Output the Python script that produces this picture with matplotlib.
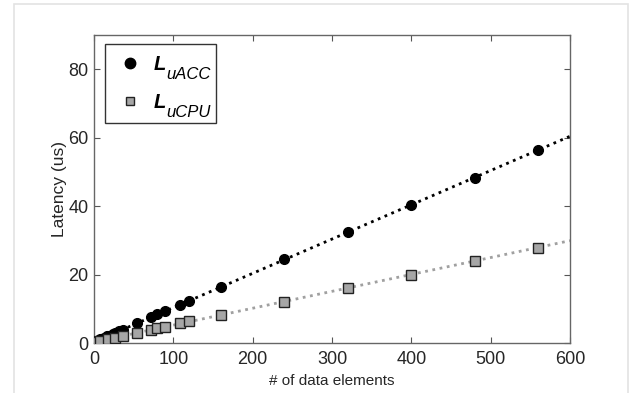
import numpy as np
import matplotlib
matplotlib.use("Agg")
import matplotlib.pyplot as plt
from matplotlib.patches import Rectangle

plt.rcParams['font.family'] = ['Liberation Sans', 'DejaVu Sans']

# data
x_acc = [1, 2, 4, 6, 8, 10, 12, 16, 18, 24, 27, 32, 36, 54, 72, 80, 90, 108, 120,
         160, 240, 320, 400, 480, 560]
y_acc = [0.4, 0.5, 0.7, 0.9, 1.1, 1.3, 1.5, 1.9, 2.1, 2.7, 3.0, 3.5, 3.9, 5.8, 7.7,
         8.5, 9.4, 11.2, 12.3, 16.3, 24.4, 32.4, 40.4, 48.3, 56.4]
x_cpu = [1, 8, 18, 27, 36, 54, 72, 80, 90, 108, 120, 160, 240, 320, 400, 480, 560]
y_cpu = [0.3, 0.6, 1.1, 1.6, 2.0, 3.0, 3.8, 4.4, 4.8, 5.7, 6.3, 8.1, 12.1, 16.1,
         20.0, 24.0, 27.9]
main_label = 'L'
sub_labels = ['uACC', 'uCPU']

W, H = 632, 393
fig = plt.figure(figsize=(W / 100, H / 100), dpi=100)
ax = fig.add_axes([94 / W, 1 - 343 / H, 476 / W, 308 / H])

# light frame around the figure
fig.patches.append(Rectangle((14 / W, -0.1), 614 / W, 1.1 - 4 / H,
                             transform=fig.transFigure, fill=False,
                             edgecolor='#e3e3e3', lw=1.2))

# linear fits drawn as dotted trend lines
xfit = np.array([0, 600])
pa = np.polyfit(x_acc, y_acc, 1)
pc = np.polyfit(x_cpu, y_cpu, 1)
ax.plot(xfit, np.polyval(pa, xfit), ':', color='black', lw=2, zorder=2)
ax.plot(xfit, np.polyval(pc, xfit), ':', color='#a0a0a0', lw=2, zorder=2)

ax.plot(x_acc, y_acc, 'o', color='black', ms=7, zorder=3, label=main_label)
ax.plot(x_cpu, y_cpu, 's', mfc='#a6a6a6', mec='#222222', mew=1, ms=6.5,
        zorder=4, label=main_label)

ax.set_xlim(0, 600)
ax.set_ylim(0, 90)
ax.set_xticks(range(0, 601, 100))
ax.set_yticks(range(0, 81, 20))
ax.tick_params(direction='in', length=4, width=0.8, top=True, right=True,
               labelsize=13, labelcolor='#262626', color='#555555')
ax.tick_params(axis='y', pad=4)
ax.tick_params(axis='x', pad=6)
for s in ax.spines.values():
    s.set_color('#666666')
    s.set_linewidth(1)

ax.set_xlabel('# of data elements', fontsize=11, color='#262626', labelpad=4)
ax.set_ylabel('Latency (us)', fontsize=12.5, color='#262626', labelpad=1)

lfont = {'size': 14.5, 'weight': 'bold', 'style': 'italic'}
leg = ax.legend(loc='upper left', bbox_to_anchor=(11 / 476, 1 - 9 / 308),
                borderaxespad=0, prop=lfont, frameon=False,
                handletextpad=0.45, borderpad=0.55,
                labelspacing=0.95, handlelength=1.4)
leg.legend_handles[0].set_markersize(7.5)
leg.legend_handles[1].set_markersize(5.5)
leg.set_zorder(6)

# subscripts placed after the big L, dropped well below its baseline
fig.canvas.draw()
rend = fig.canvas.get_renderer()
to_ax = ax.transAxes.inverted()
lbox = leg.get_window_extent(rend)
right = lbox.x1
for t, sub in zip(leg.get_texts(), sub_labels):
    bb = t.get_window_extent(rend)
    base = bb.y0 + 0.21 * lfont['size'] * 100 / 72
    sx, sy = to_ax.transform((bb.x1 + 1, base - 9))
    st = ax.text(sx, sy, sub, transform=ax.transAxes, fontsize=12,
                 fontstyle='italic', va='baseline', ha='left', zorder=7)
    right = max(right, st.get_window_extent(rend).x1 + 5)

# legend frame drawn around the marker, the L and its subscript
(x0, y0), (x1, y1) = to_ax.transform([(lbox.x0, lbox.y0), (right, lbox.y1)])
ax.add_patch(Rectangle((x0, y0), x1 - x0, y1 - y0, transform=ax.transAxes,
                       facecolor='white', edgecolor='#333333', lw=1,
                       zorder=5, clip_on=False))

fig.savefig('out.png', dpi=100)
